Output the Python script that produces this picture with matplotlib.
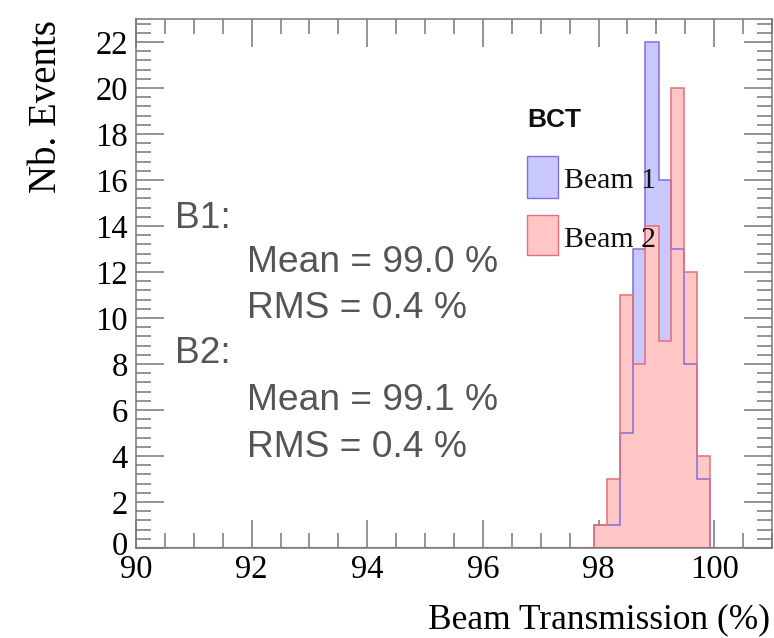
import matplotlib
matplotlib.use("Agg")
import matplotlib.pyplot as plt
from matplotlib.patches import Rectangle
from matplotlib.ticker import MultipleLocator
from matplotlib.transforms import ScaledTranslation

# beam transmission histograms (BCT), counts per bin
bin_edges = [97.92, 98.14, 98.37, 98.59, 98.81, 99.04, 99.26, 99.48, 99.70, 99.93]
beam1_counts = [1, 1, 5, 13, 22, 16, 13, 8, 3]
beam2_counts = [1, 3, 11, 8, 14, 9, 20, 12, 4]

beam_labels = ["Beam 1", "Beam 2"]
stats_lines = [
    ("B1:", 0), ("Mean = 99.0 %", 1), ("RMS = 0.4 %", 1),
    ("B2:", 0), ("Mean = 99.1 %", 1), ("RMS = 0.4 %", 1),
]

W, H = 774, 638
blue_fill = (200 / 255, 200 / 255, 252 / 255)
blue_line = (130 / 255, 110 / 255, 220 / 255)
red_fill = (255 / 255, 198 / 255, 198 / 255)
red_line = (230 / 255, 110 / 255, 120 / 255)
axis_grey = "#777777"
serif = "Liberation Serif"
sans = "Liberation Sans"


def fx(px):
    return px / W


def fy(py):
    return 1 - py / H


fig = plt.figure(figsize=(W / 100, H / 100), dpi=100)
ax = fig.add_axes([fx(136), fy(548), fx(772) - fx(136), fy(19) - fy(548)])

ax.stairs(beam1_counts, bin_edges, fill=True, color=blue_fill, zorder=2)
ax.stairs(beam2_counts, bin_edges, fill=True, color=red_fill, zorder=2.1)
ax.stairs(beam1_counts, bin_edges, color=blue_line, lw=1.1, zorder=2.2)
ax.stairs(beam2_counts, bin_edges, color=red_line, lw=1.1, zorder=2.3)
ax.axhline(0, color=red_line, lw=1.6, zorder=2.4)

ax.set_xlim(90, 101)
ax.set_ylim(0, 23)
ax.set_xticks(range(90, 101, 2))
ax.set_yticks(range(0, 23, 2))
ax.xaxis.set_minor_locator(MultipleLocator(0.5))
ax.yaxis.set_minor_locator(MultipleLocator(0.4))
ax.tick_params(which="both", direction="in", top=True, right=True,
               color=axis_grey, width=1.1)
ax.tick_params(which="major", length=20)
ax.tick_params(which="minor", length=11)
ax.tick_params(axis="y", pad=6)
ax.tick_params(axis="x", pad=5)
for lab in ax.get_xticklabels() + ax.get_yticklabels():
    lab.set_fontfamily(serif)
    lab.set_fontsize(23.5)
for sp in ax.spines.values():
    sp.set_color(axis_grey)
    sp.set_linewidth(1.1)

# lift the "0" a little so it sits above the "90"
zero_lab = ax.yaxis.get_major_ticks()[0].label1
zero_lab.set_transform(zero_lab.get_transform() + ScaledTranslation(0, 5 / 100, fig.dpi_scale_trans))

fig.text(fx(47), fy(20), "Nb. Events", rotation=90, ha="center", va="top",
         family=serif, fontsize=28)
fig.text(fx(770), fy(628), "Beam Transmission (%)", ha="right", va="baseline",
         family=serif, fontsize=25.5)

# statistics block
baselines = [228, 272, 318, 363, 410, 457]
for (txt, indent), yb in zip(stats_lines, baselines):
    fig.text(fx(247 if indent else 175), fy(yb), txt, ha="left", va="baseline",
             family=sans, fontsize=26.7, color="#555555")

# legend
fig.text(fx(527), fy(127), "BCT", ha="left", va="baseline", family=sans,
         fontweight="bold", fontsize=19, color="#111111")
for (top, bot, fc, ec, lab, yb) in [
        (156, 198, blue_fill, blue_line, beam_labels[0], 188),
        (215, 255, red_fill, red_line, beam_labels[1], 247)]:
    fig.patches.append(Rectangle((fx(527), fy(bot)), fx(558) - fx(527), fy(top) - fy(bot),
                                 transform=fig.transFigure, facecolor=fc,
                                 edgecolor=ec, lw=1.0))
    ax.text(fx(564), fy(yb), lab, transform=fig.transFigure, ha="left", va="baseline",
            family=serif, fontsize=21.5, color="#111111", zorder=3)

fig.savefig("out.png", dpi=100)
